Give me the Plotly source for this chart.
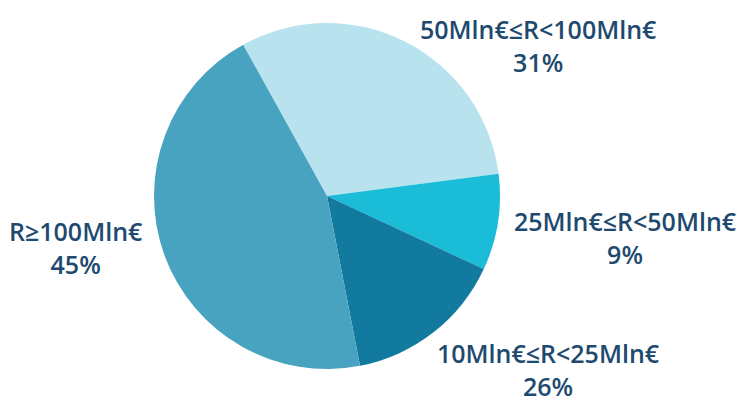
import plotly.graph_objects as go

categories = ["50Mln€≤R<100Mln€", "25Mln€≤R<50Mln€", "10Mln€≤R<25Mln€", "R≥100Mln€"]
slice_values = [31, 9, 15, 45]          # measured from slice angles
label_percents = ["31%", "9%", "26%", "45%"]  # as printed on the chart
colors = ["#b8e2ee", "#1bbcd8", "#12799f", "#48a3c1"]

W, H = 737, 401
cx, cy, r = 327, 196, 173

fig = go.Figure(go.Pie(
    labels=categories,
    values=slice_values,
    sort=False,
    direction="clockwise",
    rotation=-29,
    marker=dict(colors=colors, line=dict(width=0)),
    textinfo="none",
    hoverinfo="label+percent",
    showlegend=False,
    domain=dict(x=[(cx - r) / W, (cx + r) / W], y=[1 - (cy + r) / H, 1 - (cy - r) / H]),
))

# label block centers in pixels
label_pos = [(538, 45), (625, 237), (548, 369), (76, 247)]
txt_color = "#1e4a70"
annos = []
for cat, pct, (x, y) in zip(categories, label_percents, label_pos):
    annos.append(dict(text=f"{cat}<br>{pct}", x=x / W, y=1 - y / H, xref="paper", yref="paper",
                      showarrow=False, xanchor="center", yanchor="middle", align="center",
                      font=dict(family="Open Sans", size=25, color=txt_color, weight=600)))

fig.update_layout(
    width=W, height=H,
    margin=dict(l=0, r=0, t=0, b=0),
    paper_bgcolor="white", plot_bgcolor="white",
    annotations=annos,
)
fig.write_html("out.html")
